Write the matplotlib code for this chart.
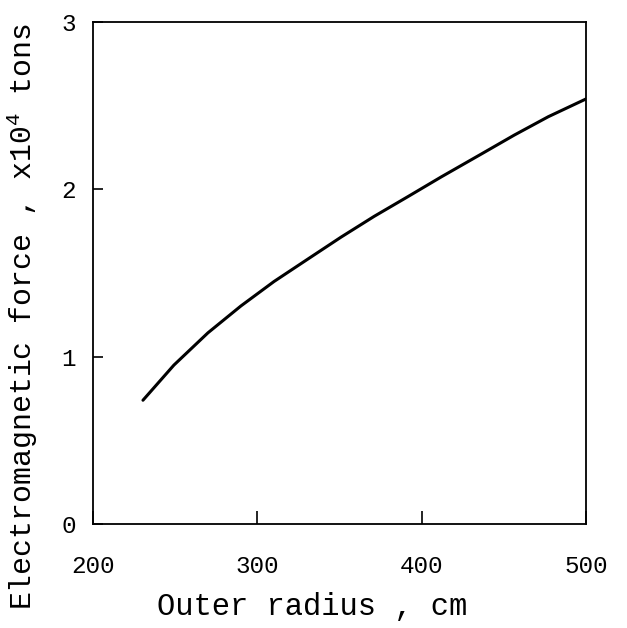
import matplotlib
matplotlib.use("Agg")
import matplotlib.pyplot as plt

plt.rcParams['font.family'] = ['Liberation Mono', 'DejaVu Sans Mono']
plt.rcParams['mathtext.default'] = 'regular'

radius_cm = [230.5, 249.3, 270.0, 290.1, 310.2, 330.9, 350.9, 371.0, 391.7,
             411.8, 436.2, 456.2, 476.9, 500.0]
force_1e4_tons = [0.74, 0.950, 1.143, 1.304, 1.450, 1.585, 1.715, 1.839, 1.958,
                  2.075, 2.212, 2.325, 2.435, 2.542]
x_ticks = [200, 300, 400, 500]
y_ticks = [0, 1, 2, 3]

fig = plt.figure(figsize=(6.27, 6.28), dpi=100)
ax = fig.add_axes([0.148, 0.1656, 0.787, 0.799])
ax.plot(radius_cm, force_1e4_tons, color='black', lw=2.2,
        solid_capstyle='round', solid_joinstyle='round')
ax.set_xlim(200, 500)
ax.set_ylim(0, 3)
ax.set_xticks(x_ticks)
ax.set_yticks(y_ticks)
ax.tick_params(axis='x', direction='in', length=9.5, width=1.2, pad=22, labelsize=17.5)
ax.tick_params(axis='y', direction='in', length=7, width=1.2, pad=12, labelsize=17.5)
for s in ax.spines.values():
    s.set_linewidth(1.3)
ax.set_xlabel('Outer radius , cm', fontsize=22)
ax.set_ylabel('Electromagnetic force , x10$^4$ tons', fontsize=21.5)
ax.xaxis.set_label_coords(0.444, -0.135)
ax.yaxis.set_label_coords(-0.108, 0.414)
fig.savefig('out.png', dpi=100)
